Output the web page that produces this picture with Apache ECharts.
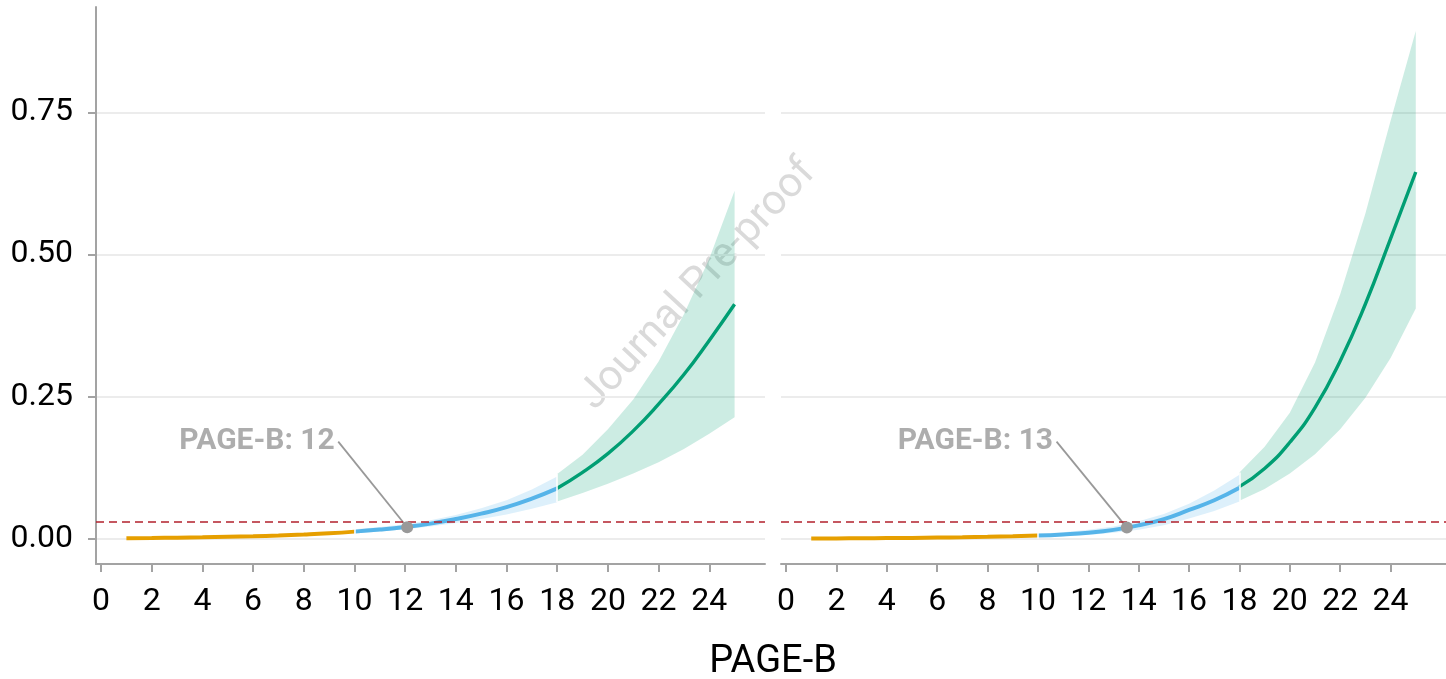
<!DOCTYPE html>
<html>
<head>
<meta charset="utf-8">
<script src="https://cdn.jsdelivr.net/npm/echarts@6/dist/echarts.min.js"></script>
<style>
  html, body { margin: 0; padding: 0; background: #fff; }
  #chart { width: 1446px; height: 679px; }
</style>
</head>
<body>
<div id="chart"></div>
<script>
// PAGE-B score values for each risk segment
var xOrange = [1, 2, 3, 4, 5, 6, 7, 8, 9, 10];
var xBlue = [10, 11, 12, 13, 14, 15, 16, 17, 18];
var xGreen = [18, 19, 20, 21, 22, 23, 24, 25];

// left panel: predicted risk and confidence band
var leftOrange = [0.0014, 0.0018, 0.0023, 0.0029, 0.0037, 0.0047, 0.006, 0.0077, 0.0099, 0.0129];
var leftBlue = [0.0129, 0.0166, 0.0212, 0.027, 0.035, 0.0445, 0.056, 0.071, 0.089];
var leftBlueLo = [0.0095, 0.013, 0.017, 0.022, 0.028, 0.035, 0.043, 0.053, 0.0645];
var leftBlueHi = [0.017, 0.021, 0.026, 0.033, 0.042, 0.054, 0.068, 0.087, 0.110];
var leftGreen = [0.089, 0.117, 0.150, 0.190, 0.237, 0.289, 0.349, 0.4125];
var leftGreenLo = [0.0657, 0.081, 0.097, 0.115, 0.135, 0.158, 0.185, 0.214];
var leftGreenHi = [0.1144, 0.148, 0.193, 0.245, 0.312, 0.395, 0.4925, 0.612];

// right panel
var rightOrange = [0.0008, 0.001, 0.0012, 0.0015, 0.0019, 0.0024, 0.003, 0.0038, 0.0048, 0.006];
var rightBlue = [0.006, 0.008, 0.011, 0.016, 0.024, 0.035, 0.051, 0.068, 0.090];
var rightBlueLo = [0.004, 0.005, 0.007, 0.011, 0.016, 0.024, 0.036, 0.049, 0.066];
var rightBlueHi = [0.009, 0.012, 0.016, 0.022, 0.031, 0.044, 0.062, 0.085, 0.113];
var rightGreen = [0.092, 0.124, 0.170, 0.231, 0.313, 0.413, 0.528, 0.645];
var rightGreenLo = [0.067, 0.088, 0.115, 0.149, 0.193, 0.248, 0.318, 0.405];
var rightGreenHi = [0.117, 0.162, 0.222, 0.31, 0.43, 0.572, 0.735, 0.893];

// cut-off points and reference line
var cutoffX = [12.08, 13.53];
var cutoffY = [0.0206, 0.0200];
var cutoffLabels = ['PAGE-B: 12', 'PAGE-B: 13'];
var riskLine = 0.03;

var xTicks = [0, 2, 4, 6, 8, 10, 12, 14, 16, 18, 20, 22, 24];
var yTicks = [0, 0.25, 0.5, 0.75];

// where the annotation text sits (layout only)
var labelAnchor = [[9.36, 0.171], [10.74, 0.171]];

var ORANGE = '#E69F00', BLUE = '#56B4E9', GREEN = '#009E73';
var AXIS = '#a3a3a3', GREY = '#999999';
var FONT = 'Roboto';

function pairs(xs, ys) {
  return xs.map(function (x, i) { return [x, ys[i]]; });
}

// confidence ribbon drawn as one polygon through the axis scales
function bandSeries(p, xs, lo, hi, color) {
  return {
    type: 'custom', xAxisIndex: p, yAxisIndex: p, silent: true, z: 1,
    data: xs.map(function (x, i) { return [x, lo[i], hi[i]]; }),
    encode: { x: 0, y: [1, 2] },
    renderItem: function (params, api) {
      if (params.dataIndex !== 0) return;
      var pts = [];
      for (var i = 0; i < xs.length; i++) pts.push(api.coord([xs[i], hi[i]]));
      for (var j = xs.length - 1; j >= 0; j--) pts.push(api.coord([xs[j], lo[j]]));
      return { type: 'polygon', shape: { points: pts }, style: { fill: color } };
    }
  };
}

// thin white cut where two segments meet
function joinMark(x, lo, hi) {
  return {
    symbol: 'none', silent: true, label: { show: false },
    lineStyle: { color: '#ffffff', type: 'solid', width: 1.5 },
    data: [[{ coord: [x, lo] }, { coord: [x, hi] }]]
  };
}

function lineSeries(p, xs, ys, color, width, extra) {
  return Object.assign({
    type: 'line', xAxisIndex: p, yAxisIndex: p, data: pairs(xs, ys),
    symbol: 'none', smooth: true, silent: true, z: 3,
    lineStyle: { color: color, width: width, cap: 'butt' }
  }, extra || {});
}

function panel(p, orange, blue, blueLo, blueHi, green, greenLo, greenHi) {
  var s = [];
  var nb = xBlue.length - 1;
  s.push(bandSeries(p, xBlue, blueLo, blueHi, 'rgba(86,180,233,0.2)'));
  s.push(bandSeries(p, xGreen, greenLo, greenHi, 'rgba(0,158,115,0.2)'));
  s.push(lineSeries(p, xOrange, orange, ORANGE, 4, {
    markLine: {
      symbol: 'none', silent: true, label: { show: false },
      lineStyle: { color: '#b2202c', type: [8, 5], width: 1.5 },
      data: [{ yAxis: riskLine }]
    }
  }));
  s.push(lineSeries(p, xBlue, blue, BLUE, 4, {
    markLine: joinMark(xBlue[0], blueLo[0] - 0.003, blueHi[0] + 0.002)
  }));
  s.push(lineSeries(p, xGreen, green, GREEN, 3.4, {
    markLine: joinMark(xGreen[0], Math.min(blueLo[nb], greenLo[0]), Math.max(blueHi[nb], greenHi[0]))
  }));
  // leader line to the cut-off point
  s.push({
    type: 'line', xAxisIndex: p, yAxisIndex: p, silent: true, z: 4,
    symbol: 'none', data: [labelAnchor[p], [cutoffX[p], cutoffY[p]]],
    lineStyle: { color: GREY, width: 1.8 }
  });
  s.push({
    type: 'scatter', xAxisIndex: p, yAxisIndex: p, silent: true, z: 5,
    data: [[cutoffX[p], cutoffY[p]]], symbolSize: 12,
    itemStyle: { color: GREY, opacity: 1 }
  });
  s.push({
    type: 'scatter', xAxisIndex: p, yAxisIndex: p, silent: true, z: 5,
    data: [labelAnchor[p]], symbolSize: 1,
    itemStyle: { color: 'rgba(0,0,0,0)' },
    label: {
      show: true, position: 'left', distance: 3,
      formatter: cutoffLabels[p],
      fontFamily: FONT, fontWeight: 'bold', fontSize: 30, color: GREY
    }
  });
  return s;
}

function xAxisFor(p) {
  return {
    type: 'value', gridIndex: p, min: -0.2, max: 26.2,
    axisLine: { show: true, onZero: false, lineStyle: { color: AXIS, width: 2 } },
    axisTick: { show: true, customValues: xTicks, length: 8, lineStyle: { color: AXIS, width: 2 } },
    axisLabel: { customValues: xTicks, margin: 22, fontFamily: FONT, fontSize: 32, color: '#000' },
    splitLine: { show: false }
  };
}
function yAxisFor(p) {
  return {
    type: 'value', gridIndex: p, min: -0.044, max: 0.935,
    axisLine: { show: p === 0, onZero: false, lineStyle: { color: AXIS, width: 2 } },
    axisTick: { show: p === 0, customValues: yTicks, length: 8, lineStyle: { color: AXIS, width: 2 } },
    axisLabel: {
      show: p === 0, customValues: yTicks, margin: 23,
      fontFamily: FONT, fontSize: 32, color: '#000',
      formatter: function (v) { return v.toFixed(2); }
    },
    splitLine: { show: true, lineStyle: { color: '#ececec', width: 2 } }
  };
}

var chart = echarts.init(document.getElementById('chart'));
chart.setOption({
  animation: false,
  backgroundColor: '#ffffff',
  grid: [
    { left: 96, top: 7, width: 669, height: 557 },
    { left: 781, top: 7, width: 669, height: 557 }
  ],
  xAxis: [xAxisFor(0), xAxisFor(1)],
  yAxis: [yAxisFor(0), yAxisFor(1)],
  graphic: [
    {
      type: 'text', x: 773, y: 662, silent: true,
      style: {
        text: 'PAGE-B', fontFamily: FONT, fontSize: 38, fill: '#000',
        align: 'center', verticalAlign: 'middle'
      }
    },
    {
      type: 'text', x: 698, y: 285, rotation: 47 * Math.PI / 180, silent: true, z: 0,
      style: {
        text: 'Journal Pre-proof', fontFamily: FONT, fontSize: 42, fill: '#dadada',
        align: 'center', verticalAlign: 'middle'
      }
    }
  ],
  series: panel(0, leftOrange, leftBlue, leftBlueLo, leftBlueHi, leftGreen, leftGreenLo, leftGreenHi)
    .concat(panel(1, rightOrange, rightBlue, rightBlueLo, rightBlueHi, rightGreen, rightGreenLo, rightGreenHi))
});
</script>
</body>
</html>
